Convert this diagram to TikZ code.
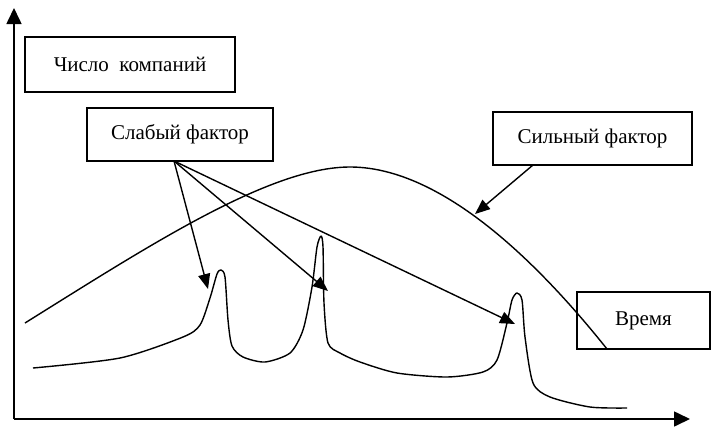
\documentclass[tikz,border=0pt]{standalone}
\usepackage{fontspec}
\setmainfont{Liberation Serif}
\newfontfamily\tnr{Liberation Serif}
\usetikzlibrary{arrows.meta}
\begin{document}
\begin{tikzpicture}[x=1pt,y=-1pt,
  lbl/.style={draw,line width=1.3pt,rectangle,inner sep=0pt,font=\tnr\fontsize{21}{24}\selectfont},
  curve/.style={line width=1.4pt,line join=round},
  arr/.style={line width=1.4pt,-{Triangle[length=15pt,width=12pt]}},
  axis/.style={line width=1.6pt,-{Triangle[length=16pt,width=15pt]}}]
\useasboundingbox (0,0) rectangle (711,426);
% axes
\coordinate (O) at (14,419);
\coordinate (Ytop) at (14,8);
\coordinate (Xend) at (690,419);
\draw[axis] (O) -- (Ytop);
\draw[axis] (O) -- (Xend);
% boxes
\node[lbl,minimum width=210pt,minimum height=55pt] (num) at (130,64.5) {Число\ \ компаний};
\node[lbl,minimum width=186pt,minimum height=53pt] (weak) at (180,134.5) {Слабый фактор};
\node[lbl,minimum width=199pt,minimum height=53pt] (strong) at (592.5,138.5) {Сильный фактор};
\node[lbl,minimum width=133pt,minimum height=57pt] (time) at (643.5,320.5) {Время};
% strong factor curve
\coordinate (c0) at (25,323);
\coordinate (c1) at (350,167);
\coordinate (c2) at (607,349);
\draw[curve] (c0) .. controls (150,245) and (270,167) .. (c1)
  .. controls (430,167) and (520,240) .. (c2);
% weak factor curve
\draw[curve] plot[smooth,tension=0.45] coordinates {
 (33,368) (120,358) (183,337) (200,325) (210,298) (217,274) (221,270) (225,277) (228,320) (232,346) (243,357) (265,362) (290,353) (303,330) (312,287) (317,247) (321,236) (323,247) (324,303) (328,343) (340,353) (360,362) (397,373) (447,377) (483,372) (497,360) (507,323) (512,300) (517,293) (522,300) (525,337) (533,383) (550,397) (590,407) (627,408)};
% arrows
\coordinate (ws) at (174,161);
\coordinate (p1) at (208,289);
\coordinate (p2) at (328,291);
\coordinate (p3) at (515,324);
\coordinate (ss) at (533,165);
\coordinate (sc) at (475,214);
\draw[arr] (ws) -- (p1);
\draw[arr] (ws) -- (p2);
\draw[arr] (ws) -- (p3);
\draw[arr] (ss) -- (sc);
\end{tikzpicture}
\end{document}
